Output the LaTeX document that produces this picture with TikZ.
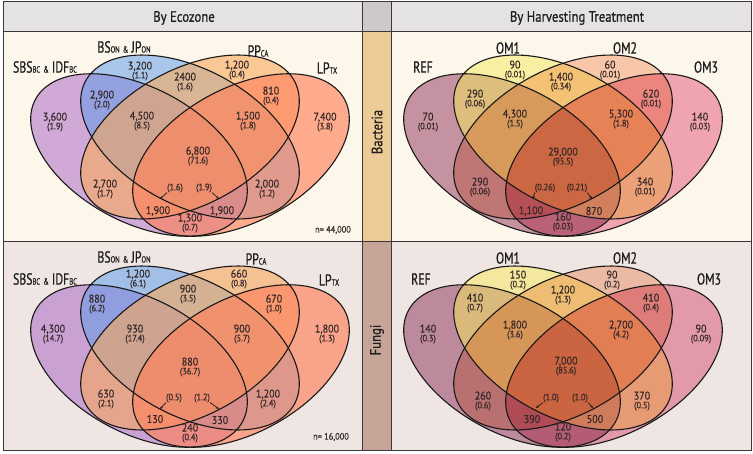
\documentclass[tikz,border=0pt]{standalone}
\usepackage{fontspec}
\setmainfont[FakeStretch=0.9,FakeBold=0.35]{PT Sans}
\newfontfamily\condfont[FakeStretch=0.74,FakeBold=0.7]{PT Sans}
\newfontfamily\hdrfont[FakeStretch=0.85,FakeBold=0.6]{PT Sans}
\usetikzlibrary{arrows.meta}
\definecolor{hdr}{RGB}{228,226,226}
\definecolor{hdrmid}{RGB}{206,200,202}
\definecolor{bgtop}{RGB}{253,246,235}
\definecolor{bgbot}{RGB}{239,230,228}
\definecolor{strbac}{RGB}{237,203,150}
\definecolor{strfun}{RGB}{198,165,152}
\definecolor{framec}{RGB}{60,55,55}
\definecolor{txt}{RGB}{50,38,38}
\definecolor{ecoA}{RGB}{167,94,195}
\definecolor{ecoB}{RGB}{87,154,235}
\definecolor{ecoC}{RGB}{248,169,93}
\definecolor{ecoD}{RGB}{255,130,91}
\definecolor{trA}{RGB}{140,48,88}
\definecolor{trB}{RGB}{247,234,90}
\definecolor{trC}{RGB}{250,207,184}
\definecolor{trD}{RGB}{242,171,190}
\newcommand{\sbf}[1]{{\fontsize{9}{9}\selectfont #1}}
\newcommand{\pfont}{\fontsize{9.3}{9}\selectfont}
\newcommand{\nv}[5]{\node[num] (#1) at (#2,#3) {#4\\{\pfont #5}};}
\newcommand{\sv}[4]{\node[num] (#1) at (#2,#3) {#4};}
\newcommand{\pv}[4]{\node[num,font=\pfont] (#1) at (#2,#3) {#4};}
\tikzset{
  num/.style={align=center, inner sep=0pt, text=txt, font=\fontsize{11.2}{8.8}\selectfont},
  setlab/.style={inner sep=0pt, text=black!88, font=\condfont\fontsize{16}{16}\selectfont},
  hdrlab/.style={inner sep=0pt, text=black!88, font=\hdrfont\fontsize{15}{15}\selectfont},
  vline/.style={draw=black!90, line width=1.1pt},
  arr/.style={-{Stealth[length=3pt,width=2.6pt]}, line width=0.7pt, black!90},
  frm/.style={draw=framec, line width=1pt},
  eA/.style={shift={(-0.51,0.24)}, rotate=-45},
  eB/.style={rotate=-45},
  eC/.style={rotate=45},
  eD/.style={shift={(0.51,0.24)}, rotate=45},
}
\newcommand{\vennfill}[5]{%
  \begin{scope}[shift={(#1)}, xscale=100, yscale=75]
    \fill[eA, fill opacity=0.5, #2] (0,0) ellipse [x radius=1.3, y radius=0.81];
    \fill[eB, fill opacity=0.5, #3] (0,0) ellipse [x radius=1.31, y radius=0.82];
    \fill[eC, fill opacity=0.6, #4] (0,0) ellipse [x radius=1.31, y radius=0.82];
    \fill[eD, fill opacity=0.65, #5] (0,0) ellipse [x radius=1.3, y radius=0.81];
  \end{scope}}
\newcommand{\vennfillR}[5]{%
  \begin{scope}[shift={(#1)}, xscale=100, yscale=75]
    \fill[eA, fill opacity=0.5, #2] (0,0) ellipse [x radius=1.3, y radius=0.81];
    \fill[eB, fill opacity=0.5, #3] (0,0) ellipse [x radius=1.31, y radius=0.82];
    \fill[eC, blend mode=multiply, #4] (0,0) ellipse [x radius=1.31, y radius=0.82];
    \fill[eD, blend mode=multiply, #5] (0,0) ellipse [x radius=1.3, y radius=0.81];
  \end{scope}}
\newcommand{\vennline}[1]{%
  \begin{scope}[shift={(#1)}, xscale=100, yscale=75]
    \draw[eA, vline] (0,0) ellipse [x radius=1.3, y radius=0.81];
    \draw[eB, vline] (0,0) ellipse [x radius=1.31, y radius=0.82];
    \draw[eC, vline] (0,0) ellipse [x radius=1.31, y radius=0.82];
    \draw[eD, vline] (0,0) ellipse [x radius=1.3, y radius=0.81];
  \end{scope}}
\begin{document}
\begin{tikzpicture}[x=1pt, y=-1pt]
\useasboundingbox (0,0) rectangle (753,454);
\fill[white] (0,0) rectangle (753,454);
% backgrounds
\fill[hdr] (3,2) rectangle (362,32);
\fill[hdr] (391,2) rectangle (751,32);
\fill[hdrmid] (362,2) rectangle (391,32);
\fill[bgtop] (3,32) rectangle (362,242);
\fill[bgtop] (391,32) rectangle (751,242);
\fill[strbac] (362,32) rectangle (391,242);
\fill[bgbot] (3,242) rectangle (362,451);
\fill[bgbot] (391,242) rectangle (751,451);
\fill[strfun] (362,242) rectangle (391,451);
% venn diagrams
\vennfill{190,137}{ecoA}{ecoB}{ecoC}{ecoD}
\vennline{190,137}
\vennfill{190,348}{ecoA}{ecoB}{ecoC}{ecoD}
\vennline{190,348}
\vennfillR{563,137}{trA}{trB}{trC}{trD}
\vennline{563,137}
\vennfillR{563,348}{trA}{trB}{trC}{trD}
\vennline{563,348}
% frame
\draw[frm] (3,2) rectangle (751,451);
\draw[frm] (3,32) -- (751,32);
\draw[frm] (3,242) -- (751,242);
\draw[frm] (362,2) -- (362,451);
\draw[frm] (391,2) -- (391,451);
% headers
\node[hdrlab] (h1) at (184,18) {By Ecozone};
\node[hdrlab] (h2) at (577,18) {By Harvesting Treatment};
\node[hdrlab, rotate=90] (sb) at (377,132) {Bacteria};
\node[hdrlab, rotate=90] (sf) at (377,340) {Fungi};
% set labels
\node[setlab] (l1) at (45,67) {SBS\sbf{BC} \sbf{\&} IDF\sbf{BC}};
\node[setlab] (l2) at (124,47) {BS\sbf{ON} \sbf{\&} JP\sbf{ON}};
\node[setlab] (l3) at (258,51) {PP\sbf{CA}};
\node[setlab] (l4) at (327,68) {LP\sbf{TX}};
\node[setlab] (l5) at (45,279) {SBS\sbf{BC} \sbf{\&} IDF\sbf{BC}};
\node[setlab] (l6) at (124,257) {BS\sbf{ON} \sbf{\&} JP\sbf{ON}};
\node[setlab] (l7) at (256,259) {PP\sbf{CA}};
\node[setlab] (l8) at (329,280) {LP\sbf{TX}};
\node[setlab] (l9) at (423,67) {REF};
\node[setlab] (l10) at (508,48) {OM1};
\node[setlab] (l11) at (625,48) {OM2};
\node[setlab] (l12) at (706,67) {OM3};
\node[setlab] (l13) at (421,279) {REF};
\node[setlab] (l14) at (508,258) {OM1};
\node[setlab] (l15) at (625,258) {OM2};
\node[setlab] (l16) at (709,279) {OM3};
% top-left numbers
\nv{tl1}{55}{122}{3,600}{(1.9)}
\nv{tl2}{140}{71}{3,200}{(1.1)}
\nv{tl3}{102}{100}{2,900}{(2.0)}
\nv{tl4}{185}{82}{2400}{(1.6)}
\nv{tl5}{237}{70}{1,200}{(0.4)}
\nv{tl6}{271}{96}{810}{(0.4)}
\nv{tl7}{142}{121}{4,500}{(8.5)}
\nv{tl8}{248}{121}{1,500}{(1.8)}
\nv{tl9}{325}{122}{7,400}{(3.8)}
\nv{tl10}{198}{156}{6,800}{(71.6)}
\nv{tl11}{105}{189}{2,700}{(1.7)}
\nv{tl12}{267}{189}{2,000}{(1.2)}
\nv{tl13}{190}{223}{1,300}{(0.7)}
\sv{tl14}{158}{211}{1,900}
\sv{tl15}{222}{211}{1,900}
\pv{tp1}{175}{188}{(1.6)}
\pv{tp2}{204}{188}{(1.9)}
\node[num, font=\pfont] (n1) at (333,230) {n= 44,000};
\coordinate (ta1) at (160,199);
\coordinate (ta2) at (219,199);
\draw[arr] (tp1.south west) -- (ta1);
\draw[arr] (tp2.south east) -- (ta2);
% top-right numbers
\nv{tr1}{428}{122}{70}{(0.01)}
\nv{tr2}{515}{70}{90}{(0.01)}
\nv{tr3}{475}{99}{290}{(0.06)}
\nv{tr4}{561}{82}{1,400}{(0.34)}
\nv{tr5}{610}{70}{60}{(0.01)}
\nv{tr6}{651}{99}{620}{(0.01)}
\nv{tr7}{515}{119}{4,300}{(1.5)}
\nv{tr8}{621}{119}{5,300}{(1.8)}
\nv{tr9}{700}{122}{140}{(0.03)}
\nv{tr10}{563}{157}{29,000}{(95.5)}
\nv{tr11}{480}{187}{290}{(0.06)}
\nv{tr12}{645}{187}{340}{(0.01)}
\nv{tr13}{563}{222}{160}{(0.03)}
\sv{tr14}{531}{211}{1,100}
\sv{tr15}{594}{211}{870}
\pv{trp1}{545}{188}{(0.26)}
\pv{trp2}{577}{188}{(0.21)}
\coordinate (tra1) at (533,199);
\coordinate (tra2) at (592,199);
\draw[arr] (trp1.south west) -- (tra1);
\draw[arr] (trp2.south east) -- (tra2);
% bottom-left numbers
\nv{bl1}{53}{334}{4,300}{(14.7)}
\nv{bl2}{138}{279}{1,200}{(6.1)}
\nv{bl3}{97}{304}{880}{(6.2)}
\nv{bl4}{188}{294}{900}{(3.5)}
\nv{bl5}{239}{279}{660}{(0.8)}
\nv{bl6}{274}{304}{670}{(1.0)}
\nv{bl7}{135}{334}{930}{(17.4)}
\nv{bl8}{242}{334}{900}{(5.7)}
\nv{bl9}{327}{334}{1,800}{(1.3)}
\nv{bl10}{190}{367}{880}{(36.7)}
\nv{bl11}{106}{399}{630}{(2.1)}
\nv{bl12}{268}{399}{1,200}{(2.4)}
\nv{bl13}{190}{433}{240}{(0.4)}
\sv{bl14}{155}{419}{130}
\sv{bl15}{220}{420}{330}
\pv{bp1}{174}{398}{(0.5)}
\pv{bp2}{202}{398}{(1.2)}
\node[num, font=\pfont] (n2) at (331,437) {n= 16,000};
\coordinate (ba1) at (160,409);
\coordinate (ba2) at (219,409);
\draw[arr] (bp1.south west) -- (ba1);
\draw[arr] (bp2.south east) -- (ba2);
% bottom-right numbers
\nv{br1}{428}{334}{140}{(0.3)}
\nv{br2}{518}{280}{150}{(0.2)}
\nv{br3}{612}{280}{90}{(0.2)}
\nv{br4}{475}{303}{410}{(0.7)}
\nv{br5}{563}{295}{1,200}{(1.3)}
\nv{br6}{651}{303}{410}{(0.4)}
\nv{br7}{515}{330}{1,800}{(3.6)}
\nv{br8}{621}{330}{2,700}{(4.2)}
\nv{br9}{701}{334}{90}{(0.09)}
\nv{br10}{566}{366}{7,000}{(85.6)}
\nv{br11}{483}{401}{260}{(0.6)}
\nv{br12}{642}{401}{370}{(0.5)}
\nv{br13}{563}{432}{120}{(0.2)}
\sv{br14}{532}{419}{390}
\sv{br15}{595}{419}{500}
\pv{brp1}{551}{398}{(1.0)}
\pv{brp2}{580}{398}{(1.0)}
\coordinate (bra1) at (536,408);
\coordinate (bra2) at (593,408);
\draw[arr] (brp1.south west) -- (bra1);
\draw[arr] (brp2.south east) -- (bra2);
\end{tikzpicture}
\end{document}
